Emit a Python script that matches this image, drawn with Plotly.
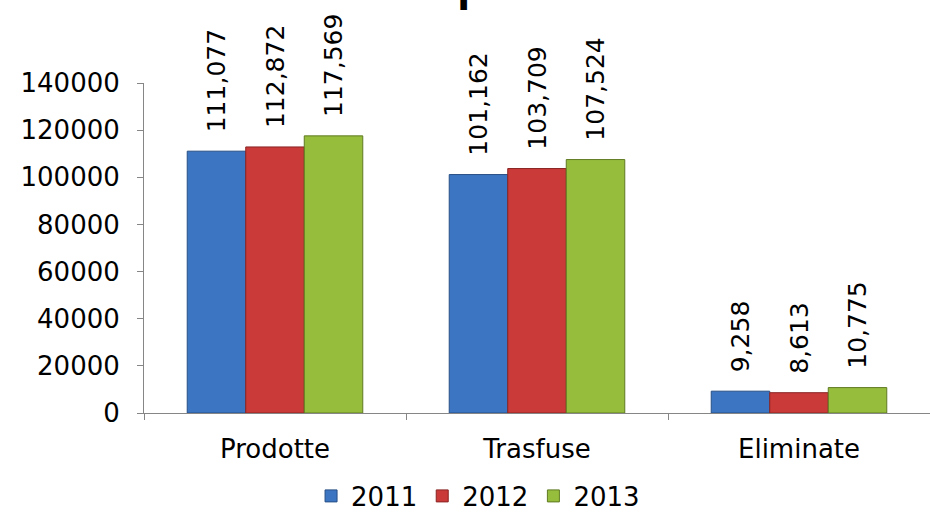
import plotly.graph_objects as go

categories = ["Prodotte", "Trasfuse", "Eliminate"]
years = ["2011", "2012", "2013"]
values_2011 = [111077, 101162, 9258]
values_2012 = [112872, 103709, 8613]
values_2013 = [117569, 107524, 10775]
series_values = [values_2011, values_2012, values_2013]
fill_colors = ["#3c76c3", "#c93a39", "#97bd3c"]
line_colors = ["#274f86", "#8a2423", "#5f7a22"]
y_ticks = [0, 20000, 40000, 60000, 80000, 100000, 120000, 140000]

FONT = "DejaVu Sans"
fig = go.Figure()
for name, vals, fc, lc in zip(years, series_values, fill_colors, line_colors):
    fig.add_trace(go.Bar(
        x=categories, y=vals, name=name,
        marker=dict(color=fc, line=dict(color=lc, width=1)),
        texttemplate="\u00a0\u00a0%{y:,}",
        textposition="outside",
        textangle=-90,
        constraintext="none",
        cliponaxis=False,
        textfont=dict(family=FONT, size=25, color="black"),
    ))

fig.update_layout(
    width=930, height=517,
    margin=dict(l=144, r=0, t=83, b=104, autoexpand=False),
    paper_bgcolor="white", plot_bgcolor="white",
    barmode="group", bargap=0.33, bargroupgap=0,
    font=dict(family=FONT, size=26, color="black"),
    showlegend=True,
    legend=dict(orientation="h", x=0.425, xanchor="center", y=-0.2515, yanchor="middle",
                font=dict(family=FONT, size=26, color="black"), itemwidth=30),
    xaxis=dict(type="category", showline=True, linecolor="#868686", linewidth=1,
               ticks="outside", ticklen=6, tickcolor="#868686", tickson="boundaries",
               showgrid=False, ticklabelstandoff=13,
               tickfont=dict(family=FONT, size=26, color="black")),
    yaxis=dict(range=[0, 140000], tickvals=y_ticks, tickformat="d", showline=True,
               linecolor="#868686", linewidth=1, ticks="outside", ticklen=6,
               tickcolor="#868686", showgrid=False, zeroline=False, ticklabelstandoff=12,
               tickfont=dict(family=FONT, size=26, color="black")),
    annotations=[dict(text="<b>p</b>", xref="paper", yref="paper", x=0.396, y=1,
                      xanchor="left", yanchor="bottom", yshift=71, showarrow=False,
                      font=dict(family="Liberation Sans", size=48, color="black"))],
)

fig.write_html("out.html", config={"displayModeBar": False},
               post_script="document.body.style.margin='0';document.body.style.padding='0';")
